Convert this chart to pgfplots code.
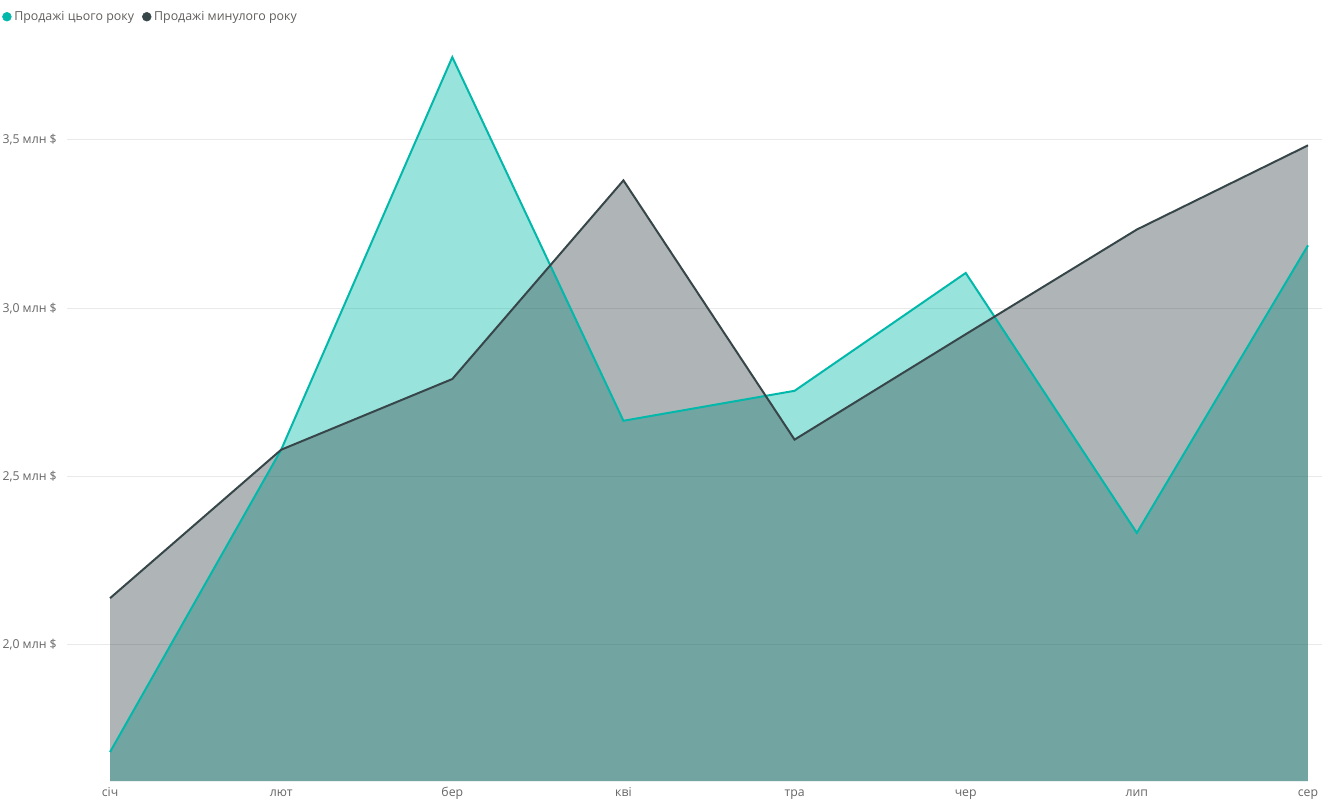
\documentclass[border=0pt]{standalone}
\usepackage{fontspec}
\setmainfont{Open Sans}
\usepackage{pgfplots}
\pgfplotsset{compat=1.18}
\definecolor{thisyear}{HTML}{01B8AA}
\definecolor{lastyear}{HTML}{374649}
\definecolor{labelgray}{HTML}{666666}
\definecolor{legendgray}{HTML}{605E5C}
\definecolor{gridgray}{HTML}{E9E9E9}

\begin{document}
\begin{tikzpicture}
\useasboundingbox (0,0) rectangle (993pt,600pt);
\begin{axis}[
    at={(50.25pt,14.25pt)},
    anchor=south west,
    scale only axis,
    width=941.25pt,
    height=556.5pt,
    xmin=-0.2515, xmax=7.082,
    ymin=1.596, ymax=3.8,
    axis line style={draw=none},
    major tick length=0pt,
    xtick={0,...,7},
    xticklabels={січ,лют,бер,кві,тра,чер,лип,сер},
    ytick={2.0,2.5,3.0,3.5},
    ymajorgrids,
    grid style={gridgray, line width=0.75pt},
    /pgf/number format/assume math mode=true,
    yticklabel={\pgfmathprintnumber[fixed,fixed zerofill,precision=1,use comma]{\tick}~млн~\$},
    ticklabel style={font=\fontsize{9.2}{11}\selectfont, text=labelgray},
    yticklabel style={anchor=east, inner sep=0pt, xshift=-7.5pt},
    xticklabel style={anchor=base, inner sep=0pt, yshift=-11.5pt},
    legend style={at={(-0.0518,1.030)}, anchor=west, draw=none, fill=none,
        font=\fontsize{9.3}{11}\selectfont, text=legendgray, inner sep=0pt,
        /tikz/every even column/.append style={column sep=4pt}},
    legend columns=2,
    legend cell align=left,
    legend image code/.code={\fill (2.6pt,0pt) circle (3.3pt);},
]
% filled areas
\addplot[fill=thisyear, fill opacity=0.4, draw=none, forget plot] coordinates {
    (0,1.682) (1,2.580) (2,3.746) (3,2.666) (4,2.755) (5,3.105) (6,2.333) (7,3.187)
} \closedcycle;
\addplot[fill=lastyear, fill opacity=0.4, draw=none, forget plot] coordinates {
    (0,2.139) (1,2.580) (2,2.790) (3,3.380) (4,2.610) (5,2.923) (6,3.234) (7,3.484)
} \closedcycle;
% lines
\addplot[thisyear, line width=1.5pt, forget plot] coordinates {
    (0,1.682) (1,2.580) (2,3.746) (3,2.666) (4,2.755) (5,3.105) (6,2.333) (7,3.187)
};
\addplot[lastyear, line width=1.5pt, forget plot] coordinates {
    (0,2.139) (1,2.580) (2,2.790) (3,3.380) (4,2.610) (5,2.923) (6,3.234) (7,3.484)
};
\addlegendimage{thisyear}
\addlegendentry{Продажі цього року}
\addlegendimage{lastyear}
\addlegendentry{Продажі минулого року}
\end{axis}
\end{tikzpicture}
\end{document}
